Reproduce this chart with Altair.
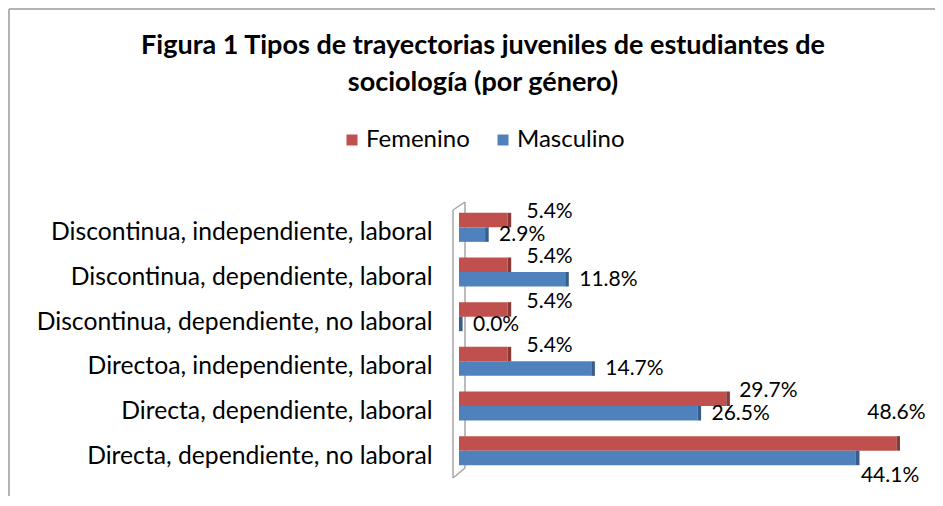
import altair as alt
import pandas as pd

categorias = [
    "Discontinua, independiente, laboral",
    "Discontinua, dependiente, laboral",
    "Discontinua, dependiente, no laboral",
    "Directoa, independiente, laboral",
    "Directa, dependiente, laboral",
    "Directa, dependiente, no laboral",
]
femenino = [5.4, 5.4, 5.4, 5.4, 29.7, 48.6]
masculino = [2.9, 11.8, 0.0, 14.7, 26.5, 44.1]
generos = ["Femenino", "Masculino"]
colores = ["#C0504D", "#4F81BD"]
colores_cara = ["#8C3836", "#385D8A"]
titulo = ["Figura 1 Tipos de trayectorias juveniles de estudiantes de", "sociología (por género)"]

rows = []
for c, f, m in zip(categorias, femenino, masculino):
    rows.append({"cat": c, "genero": generos[0], "valor": f})
    rows.append({"cat": c, "genero": generos[1], "valor": m})
df = pd.DataFrame(rows)

FONT = "Lato"
W, H = 450, 268
one = pd.DataFrame({"k": [0]})

x_scale = alt.Scale(domain=[0, 50], nice=False, zero=True)
y_axis = alt.Axis(title=None, domain=False, ticks=False, grid=False,
                  labelFontSize=24.7, labelFont=FONT, labelColor="#000000",
                  labelPadding=27, labelLimit=600, labelOffset=6)
y_enc = alt.Y("cat:N", sort=categorias,
              scale=alt.Scale(paddingInner=0.35, paddingOuter=0.175),
              axis=y_axis)
yoff = alt.YOffset("genero:N", sort=generos,
                   scale=alt.Scale(domain=generos, paddingInner=0, paddingOuter=0))
x_enc = alt.X("valor:Q", scale=x_scale, axis=None)

# 3D wall outline
wall_c = "#A6A6A6"
wall_front = alt.Chart(one).mark_rule(color=wall_c, strokeWidth=1.5).encode(
    x=alt.value(-6), y=alt.value(5), y2=alt.value(273))
wall_back = alt.Chart(one).mark_rule(color=wall_c, strokeWidth=1.5).encode(
    x=alt.value(6), y=alt.value(-3), y2=alt.value(263))
wall_top = alt.Chart(one).mark_rule(color=wall_c, strokeWidth=1.5).encode(
    x=alt.value(-6), x2=alt.value(6), y=alt.value(5), y2=alt.value(-3))
wall_bot = alt.Chart(one).mark_rule(color=wall_c, strokeWidth=1.5).encode(
    x=alt.value(-6), x2=alt.value(6), y=alt.value(273), y2=alt.value(263))

# chart border (top and left edges visible)
border_top = alt.Chart(one).mark_rule(color="#9A9A9A", strokeWidth=1.5).encode(
    x=alt.value(-450), x2=alt.value(480), y=alt.value(-196))
border_left = alt.Chart(one).mark_rule(color="#9A9A9A", strokeWidth=1.5).encode(
    x=alt.value(-450), y=alt.value(-196), y2=alt.value(300))

bars = alt.Chart(df).mark_bar().encode(
    x=x_enc,
    y=y_enc,
    yOffset=yoff,
    color=alt.Color(
        "genero:N",
        scale=alt.Scale(domain=generos, range=colores),
        legend=alt.Legend(
            orient="none", legendX=-119, legendY=-77, direction="horizontal",
            title=None, symbolType="square", symbolSize=121, symbolStrokeWidth=0,
            labelFontSize=24, labelFont=FONT, labelColor="#000000",
            columnPadding=21, labelOffset=2,
        ),
    ),
)

caps = alt.Chart(df).transform_calculate(x2="datum.valor + 0.4").mark_bar().encode(
    x=x_enc,
    x2="x2:Q",
    y=y_enc,
    yOffset=yoff,
    color=alt.condition(f"datum.genero == '{generos[0]}'",
                        alt.value(colores_cara[0]), alt.value(colores_cara[1])),
)

fem = alt.Chart(df).transform_filter(f"datum.genero == '{generos[0]}'").transform_calculate(
    txt="format(datum.valor, '.1f') + '%'")
mas = alt.Chart(df).transform_filter(f"datum.genero == '{generos[1]}'").transform_calculate(
    txt="format(datum.valor, '.1f') + '%'")

# labels that fit to the right of the bar end
lab_f = fem.transform_filter("datum.valor <= 44").mark_text(
    align="center", baseline="middle", dx=42, dy=-15,
    fontSize=21, font=FONT, color="#000000").encode(
    x=x_enc, y=y_enc, text="txt:N")
lab_m = mas.transform_filter("datum.valor <= 44").mark_text(
    align="left", baseline="middle", dx=14, dy=8,
    fontSize=21, font=FONT, color="#000000").encode(
    x=x_enc, y=y_enc, text="txt:N")
# labels of bars reaching the plot edge go above / below the bar end
lab_f_top = fem.transform_filter("datum.valor > 44").mark_text(
    align="center", baseline="middle", dx=0, dy=-38,
    fontSize=21, font=FONT, color="#000000").encode(
    x=x_enc, y=y_enc, text="txt:N")
lab_m_bot = mas.transform_filter("datum.valor > 44").mark_text(
    align="left", baseline="middle", dx=5, dy=25,
    fontSize=21, font=FONT, color="#000000").encode(
    x=x_enc, y=y_enc, text="txt:N")

t1 = alt.Chart(one).mark_text(align="center", baseline="alphabetic", fontSize=27,
                              fontWeight="bold", font=FONT, color="#000000").encode(
    x=alt.value(24), y=alt.value(-151), text=alt.value(titulo[0]))
t2 = alt.Chart(one).mark_text(align="center", baseline="alphabetic", fontSize=27,
                              fontWeight="bold", font=FONT, color="#000000").encode(
    x=alt.value(24), y=alt.value(-114), text=alt.value(titulo[1]))

chart = alt.layer(
    border_top, border_left, wall_back, wall_front, wall_top, wall_bot,
    bars, caps, lab_f, lab_m, lab_f_top, lab_m_bot, t1, t2,
).properties(
    width=W, height=H,
    background="white",
    autosize=alt.AutoSizeParams(type="none"),
    padding={"left": 451, "top": 197, "right": 26, "bottom": 23},
).configure_view(stroke=None)

chart.save("out.html", embed_options={"renderer": "svg", "actions": False})
